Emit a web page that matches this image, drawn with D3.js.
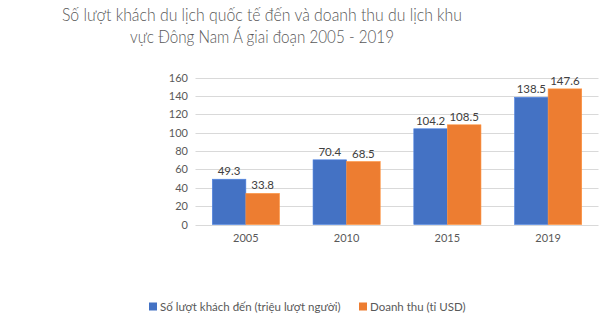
<!DOCTYPE html>
<html><head><meta charset="utf-8">
<script src="https://cdn.jsdelivr.net/npm/d3@7"></script>
<style>html,body{margin:0;padding:0;background:#fff;}svg{display:block;font-family:Lato,"Noto Sans",sans-serif;}</style>
</head><body>
<svg id="c" width="600" height="329"></svg>
<script>
const categories = ["2005","2010","2015","2019"];
const visitors = [49.3,70.4,104.2,138.5];
const revenue = [33.8,68.5,108.5,147.6];
const seriesNames = ["Số lượt khách đến (triệu lượt người)","Doanh thu (tỉ USD)"];
const yTicks = [0,20,40,60,80,100,120,140,160];
const titleLines = ["Số lượt khách du lịch quốc tế đến và doanh thu du lịch khu","vực Đông Nam Á giai đoạn 2005 - 2019"];
const colors = ["#4472C4","#ED7D31"];

const svg = d3.select("#c");
svg.append("rect").attr("width",600).attr("height",329).attr("fill","#fff");
const x = d3.scaleBand().domain(categories).range([195.5,598.5]).paddingInner(0).paddingOuter(0);
const y = d3.scaleLinear().domain([0,160]).range([224.5,77.5]);
const inner = d3.scaleBand().domain([0,1]).range([0,x.bandwidth()]).paddingOuter(0.5).paddingInner(0);

// gridlines
svg.append("g").selectAll("line").data(yTicks).join("line")
  .attr("x1",195.5).attr("x2",598.5)
  .attr("y1",d=>Math.round(y(d))+0.5).attr("y2",d=>Math.round(y(d))+0.5)
  .attr("stroke","#d9d9d9").attr("stroke-width",1);

// y axis labels
const yAxis = d3.axisLeft(y).tickValues(yTicks).tickSize(0).tickPadding(7);
const ya = svg.append("g").attr("transform","translate(188,0)").call(yAxis);
ya.select(".domain").remove();
ya.selectAll("text").attr("font-size","11px").attr("fill","#595959").attr("font-family","Lato,'Noto Sans',sans-serif").attr("x",0);

// x axis
const xAxis = d3.axisBottom(x).tickSize(0).tickPadding(10);
const xa = svg.append("g").attr("transform","translate(0,224.5)").call(xAxis);
xa.select(".domain").remove();
xa.selectAll("text").attr("font-size","11px").attr("fill","#595959").attr("font-family","Lato,'Noto Sans',sans-serif");

const data = [visitors,revenue];
data.forEach((vals,si)=>{
  const g = svg.append("g");
  g.selectAll("rect").data(vals).join("rect")
    .attr("x",(d,i)=>x(categories[i])+inner(si))
    .attr("width",inner.bandwidth())
    .attr("y",d=>y(d)).attr("height",d=>y(0)-y(d))
    .attr("fill",colors[si]).attr("stroke",d3.color(colors[si]).brighter(0.4)).attr("stroke-width",0.6);
  g.selectAll("text").data(vals).join("text")
    .attr("x",(d,i)=>x(categories[i])+inner(si)+inner.bandwidth()/2)
    .attr("y",d=>y(d)-4)
    .attr("text-anchor","middle").attr("font-size","11.5px").attr("fill","#404040")
    .text(d=>d.toFixed(1));
});

// title
const titleW = [400,264];
svg.append("g").selectAll("text").data(titleLines).join("text")
  .attr("x",262).attr("y",(d,i)=>21+i*22)
  .attr("text-anchor","middle").attr("font-size","18px").attr("font-weight",300).attr("fill","#595959")
  .attr("textLength",(d,i)=>titleW[i]).attr("lengthAdjust","spacingAndGlyphs")
  .text(d=>d);

// legend
const legX = [149,359];
seriesNames.forEach((n,i)=>{
  svg.append("rect").attr("x",legX[i]).attr("y",302.5).attr("width",8).attr("height",8).attr("fill",colors[i]);
  svg.append("text").attr("x",legX[i]+11).attr("y",310.5).attr("font-size","11.5px").attr("fill","#595959").text(n);
});
</script>
</body></html>
